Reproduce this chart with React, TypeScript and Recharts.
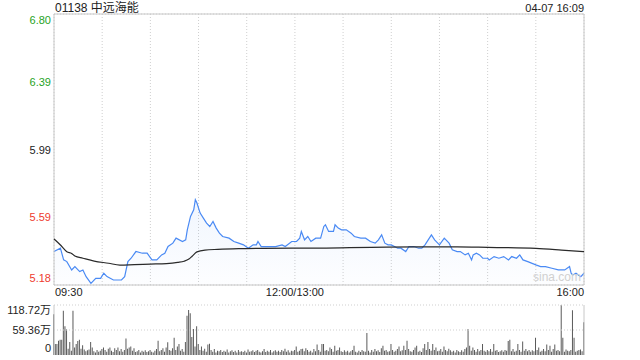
import React from 'react';
import { ComposedChart, Line, Area, Bar, XAxis, YAxis, CartesianGrid, ReferenceLine } from 'recharts';

const stockTitle = '01138 中远海能';
const stampText = '04-07 16:09';

const priceMinutes = [0, 4, 6, 8, 11, 13, 16, 18, 20, 23, 26, 29, 31, 33, 37, 42, 44, 46, 48, 51, 55, 58, 61, 64, 67, 69, 71, 74, 76, 80, 82, 83, 85, 87, 88, 89, 91, 93, 95, 97, 99, 101, 103, 105, 109, 112, 115, 118, 121, 124, 126, 127, 129, 133, 138, 142, 144, 148, 151, 153, 154, 156, 158, 160, 163, 166, 168, 169, 171, 174, 175, 177, 179, 182, 185, 187, 191, 194, 197, 200, 202, 204, 206, 208, 210, 212, 214, 216, 219, 221, 224, 227, 229, 231, 233, 235, 237, 240, 243, 246, 248, 251, 253, 256, 258, 260, 261, 263, 265, 267, 270, 271, 274, 277, 280, 283, 285, 288, 290, 292, 295, 300, 303, 306, 310, 314, 318, 321, 322, 323, 325, 328, 330];
const priceValues = [5.38, 5.40, 5.33, 5.32, 5.27, 5.29, 5.26, 5.27, 5.23, 5.19, 5.22, 5.22, 5.25, 5.23, 5.21, 5.21, 5.23, 5.32, 5.34, 5.38, 5.37, 5.37, 5.33, 5.33, 5.36, 5.37, 5.41, 5.43, 5.46, 5.44, 5.45, 5.51, 5.59, 5.63, 5.69, 5.67, 5.61, 5.58, 5.55, 5.53, 5.56, 5.52, 5.49, 5.47, 5.46, 5.44, 5.43, 5.42, 5.40, 5.42, 5.42, 5.44, 5.41, 5.41, 5.41, 5.42, 5.41, 5.44, 5.44, 5.46, 5.50, 5.45, 5.47, 5.44, 5.46, 5.46, 5.53, 5.54, 5.50, 5.50, 5.54, 5.52, 5.51, 5.51, 5.49, 5.47, 5.46, 5.46, 5.44, 5.43, 5.45, 5.48, 5.43, 5.42, 5.42, 5.41, 5.40, 5.40, 5.38, 5.41, 5.41, 5.40, 5.40, 5.42, 5.45, 5.48, 5.45, 5.42, 5.46, 5.43, 5.39, 5.38, 5.38, 5.36, 5.37, 5.33, 5.36, 5.37, 5.36, 5.34, 5.34, 5.33, 5.35, 5.34, 5.35, 5.33, 5.35, 5.34, 5.36, 5.33, 5.32, 5.30, 5.29, 5.29, 5.28, 5.27, 5.27, 5.29, 5.25, 5.24, 5.25, 5.23, 5.25];

const avgMinutes = [0, 4, 8, 11, 13, 18, 25, 34, 41, 50, 60, 70, 77, 81, 84, 86, 89, 94, 102, 115, 130, 166, 207, 251, 270, 300, 316, 330];
const avgValues = [5.455, 5.419, 5.379, 5.369, 5.353, 5.340, 5.323, 5.310, 5.299, 5.302, 5.305, 5.308, 5.315, 5.322, 5.335, 5.352, 5.378, 5.389, 5.393, 5.397, 5.399, 5.401, 5.407, 5.408, 5.405, 5.399, 5.389, 5.379];

// volume per minute (万)
const volumes = [
  97, 26, 26, 34, 36, 36, 105, 68, 61, 15,
  31, 10, 105, 18, 26, 33, 36, 15, 23, 13,
  9, 11, 13, 31, 18, 9, 6, 12, 8, 10,
  14, 18, 12, 8, 15, 18, 10, 7, 16, 12,
  18, 9, 14, 8, 12, 39, 15, 18, 20, 10,
  16, 7, 9, 12, 6, 10, 8, 11, 7, 9,
  12, 8, 6, 10, 14, 34, 9, 12, 16, 8,
  18, 30, 12, 10, 16, 41, 12, 20, 26, 10,
  14, 8, 31, 93, 107, 99, 43, 62, 20, 68,
  26, 12, 20, 10, 15, 8, 25, 27, 12, 8,
  14, 6, 10, 9, 12, 7, 10, 8, 13, 6,
  9, 11, 7, 10, 6, 12, 8, 9, 7, 10,
  6, 13, 8, 9, 11, 7, 10, 12, 8, 6,
  9, 14, 7, 10, 8, 12, 6, 9, 11, 8,
  10, 7, 12, 9, 15, 8, 11, 6, 10, 9,
  12, 20, 8, 10, 14, 15, 9, 16, 12, 8,
  10, 6, 14, 9, 25, 12, 8, 26, 26, 10,
  12, 9, 18, 14, 8, 22, 10, 12, 18, 9,
  7, 11, 8, 10, 6, 9, 12, 22, 8, 6,
  10, 7, 12, 9, 8, 52, 10, 6, 12, 8,
  14, 9, 11, 7, 16, 22, 10, 12, 8, 9,
  26, 12, 8, 10, 14, 20, 9, 11, 22, 12,
  34, 14, 9, 8, 12, 18, 22, 8, 10, 7,
  16, 26, 12, 31, 14, 10, 26, 12, 18, 9,
  10, 14, 8, 20, 12, 9, 15, 11, 8, 10,
  6, 12, 9, 7, 11, 8, 14, 18, 62, 22,
  10, 18, 12, 8, 14, 9, 12, 26, 10, 8,
  12, 9, 14, 8, 26, 10, 12, 7, 9, 11,
  8, 12, 10, 33, 36, 9, 14, 8, 10, 26,
  12, 8, 32, 10, 14, 9, 12, 8, 11, 9,
  41, 12, 18, 8, 10, 14, 9, 25, 12, 22,
  8, 14, 25, 10, 12, 9, 118.72, 41, 8, 13,
  10, 9, 12, 106, 41, 8, 10, 12, 13, 9,
  78,
];

const priceTicks = [5.18, 5.585, 5.99, 6.395, 6.8];
const priceTickLabels = ['5.18', '5.59', '5.99', '6.39', '6.80'];
const pctTickLabels = ['-13.44%', '-6.72%', '0.00%', '+6.72%', '+13.44%'];
const timeTicks = [0, 30, 60, 90, 120, 150, 180, 210, 240, 270, 300, 330];
const timeTickLabels: Record<number, string> = { 0: '09:30', 150: '12:00/13:00', 330: '16:00' };
const volTicks = [0, 59.36, 118.72];
const volTickLabels = ['0', '59.36万', '118.72万'];

const GREEN = '#26a326';
const RED = '#ee3b2e';
const FONT = '"Liberation Sans", Arial, "Noto Sans CJK SC", sans-serif';

const tickColor = (i: number) => (i > 2 ? GREEN : i < 2 ? RED : '#222');
const tickDy = (i: number, n: number) => (i === n - 1 ? 10 : i === 0 ? -3 : 4);

const mergedMap = new Map<number, { t: number; price?: number; avg?: number }>();
priceMinutes.forEach((m, i) => {
  const e = mergedMap.get(m) || { t: m };
  e.price = priceValues[i];
  mergedMap.set(m, e);
});
avgMinutes.forEach((m, i) => {
  const e = mergedMap.get(m) || { t: m };
  e.avg = avgValues[i];
  mergedMap.set(m, e);
});
const priceData = Array.from(mergedMap.values()).sort((a, b) => a.t - b.t);
const volData = volumes.map((v, i) => ({ t: i, v }));

const LeftTick = (props: any) => {
  const i = priceTicks.indexOf(props.payload.value);
  return (
    <text x={51} y={props.y + tickDy(i, priceTicks.length)} textAnchor="end" fill={tickColor(i)} fontSize={11} fontFamily={FONT}>
      {priceTickLabels[i]}
    </text>
  );
};
const RightTick = (props: any) => {
  const i = priceTicks.indexOf(props.payload.value);
  return (
    <text x={589} y={props.y + tickDy(i, priceTicks.length)} textAnchor="start" fill={tickColor(i)} fontSize={11} fontFamily={FONT}>
      {pctTickLabels[i]}
    </text>
  );
};
const TimeTick = (props: any) => {
  const v = props.payload.value;
  const label = timeTickLabels[v];
  if (!label) return null;
  const anchor = v === 0 ? 'start' : v === 330 ? 'end' : 'middle';
  const dx = v === 0 ? 1 : 0;
  return (
    <text x={props.x + dx} y={296} textAnchor={anchor} fill="#222" fontSize={11} fontFamily={FONT}>
      {label}
    </text>
  );
};
const VolTick = (props: any) => {
  const i = volTicks.indexOf(props.payload.value);
  const dy = i === 2 ? 9 : i === 0 ? -3 : 4;
  return (
    <text x={51} y={props.y + dy} textAnchor="end" fill="#222" fontSize={11} fontFamily={FONT}>
      {volTickLabels[i]}
    </text>
  );
};

export default function App() {
  return (
    <div style={{ position: 'absolute', left: 0, top: 0, width: 640, height: 360, background: '#fff', fontFamily: FONT, overflow: 'hidden' }}>
      <div style={{ position: 'absolute', left: 55, top: 1, fontSize: 12, color: '#222', lineHeight: '14px', whiteSpace: 'nowrap' }}>{stockTitle}</div>
      <div style={{ position: 'absolute', right: 56, top: 1, fontSize: 11, color: '#222', lineHeight: '14px', whiteSpace: 'nowrap' }}>{stampText}</div>
      <div style={{ position: 'absolute', left: 0, top: 0 }}>
        <ComposedChart width={640} height={300} data={priceData} margin={{ top: 14, right: 0, bottom: 0, left: 0 }}>
          <defs>
            <linearGradient id="pf" x1="0" y1="0" x2="0" y2="1">
              <stop offset="0%" stopColor="#4a8af4" stopOpacity={0.13} />
              <stop offset="100%" stopColor="#4a8af4" stopOpacity={0.02} />
            </linearGradient>
          </defs>
          <CartesianGrid stroke="#cfcfcf" strokeDasharray="1 2" />
          <XAxis dataKey="t" type="number" domain={[0, 330]} ticks={timeTicks} tick={<TimeTick />} axisLine={false} tickLine={false} height={15} interval={0} />
          <YAxis yAxisId="l" type="number" domain={[5.18, 6.8]} ticks={priceTicks} tick={<LeftTick />} axisLine={false} tickLine={false} width={54} interval={0} />
          <YAxis yAxisId="r" orientation="right" type="number" domain={[5.18, 6.8]} ticks={priceTicks} tick={<RightTick />} axisLine={false} tickLine={false} width={56} interval={0} />
          <ReferenceLine yAxisId="l" x={0} stroke="#c8c8c8" />
          <ReferenceLine yAxisId="l" x={330} stroke="#c8c8c8" />
          <ReferenceLine yAxisId="l" y={6.8} stroke="#c8c8c8" />
          <ReferenceLine yAxisId="l" y={5.18} stroke="#c8c8c8" />
          <Area yAxisId="l" type="linear" dataKey="price" stroke="#4a8af4" strokeWidth={1.2} fill="url(#pf)" connectNulls dot={false} activeDot={false} isAnimationActive={false} />
          <Line yAxisId="l" type="monotone" dataKey="avg" stroke="#2a2a2a" strokeWidth={1.2} connectNulls dot={false} activeDot={false} isAnimationActive={false} />
        </ComposedChart>
      </div>
      <div style={{ position: 'absolute', left: 533, top: 270, fontSize: 12, color: '#d0d0d0', whiteSpace: 'nowrap', lineHeight: '14px' }}>sina.com</div>
      <div style={{ position: 'absolute', left: 0, top: 300 }}>
        <ComposedChart width={640} height={60} data={volData} margin={{ top: 5, right: 56, bottom: 5, left: 0 }}>
          <XAxis dataKey="t" type="number" domain={[0, 330]} hide />
          <YAxis type="number" domain={[0, 118.72]} ticks={volTicks} tick={<VolTick />} axisLine={false} tickLine={false} width={54} interval={0} />
          <ReferenceLine y={118.72} stroke="#cfcfcf" strokeDasharray="1 2" />
          <ReferenceLine y={59.36} stroke="#cfcfcf" strokeDasharray="1 2" />
          <ReferenceLine x={0} stroke="#c8c8c8" />
          <ReferenceLine x={330} stroke="#c8c8c8" />
          <Bar dataKey="v" fill="#5a5a5a" barSize={1} isAnimationActive={false} />
        </ComposedChart>
      </div>
    </div>
  );
}
